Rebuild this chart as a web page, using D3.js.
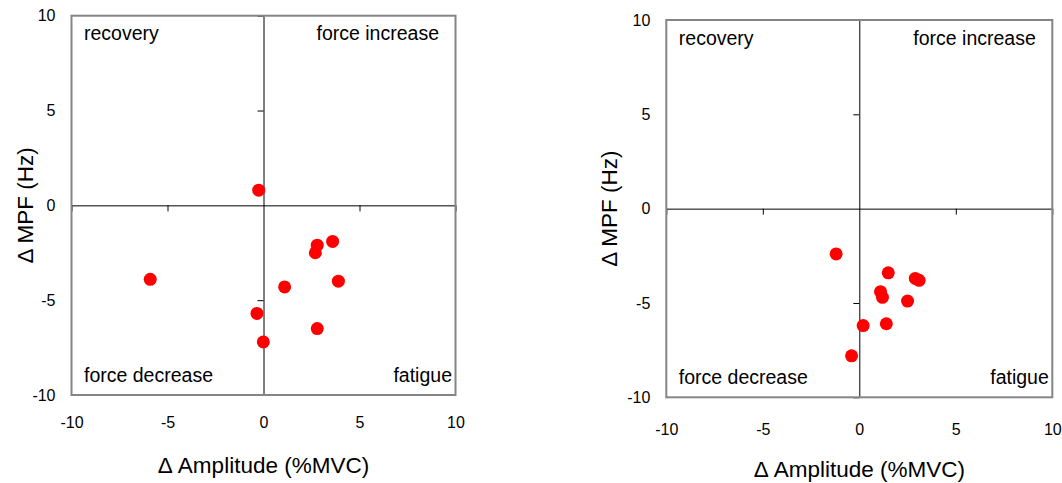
<!DOCTYPE html>
<html>
<head>
<meta charset="utf-8">
<script src="https://cdn.jsdelivr.net/npm/d3@7"></script>
<style>
  body { margin: 0; background: #fff; }
  svg text { font-family: Arial, "Liberation Sans", sans-serif; fill: #000; }
</style>
</head>
<body>
<svg id="chart" width="1062" height="483"></svg>
<script>
// values
var leftAmp  = [-0.25, -5.9, -0.34, -0.01, 2.8, 2.7, 3.6, 3.9, 1.1, 2.8];
var leftMpf  = [0.8, -3.9, -5.7, -7.2, -2.1, -2.5, -1.9, -4.0, -4.3, -6.5];
var rightAmp = [-1.2, 0.2, -0.4, 1.5, 2.9, 3.1, 1.1, 1.2, 2.5, 1.4];
var rightMpf = [-2.4, -6.2, -7.8, -3.4, -3.7, -3.8, -4.4, -4.7, -4.9, -6.1];
var tickVals = [-10, -5, 0, 5, 10];
var axisRange = [-10, 10];
var quadLabels = ["recovery", "force increase", "force decrease", "fatigue"];
var xTitle = "\u0394 Amplitude (%MVC)";
var yTitle = "\u0394 MPF (Hz)";

var panels = [
  {amp: leftAmp, mpf: leftMpf, x0: 71.5, x1: 455.5, y0: 15.7, y1: 395,
   xPad: 22, xTitleY: 473, yTitleX: 33},
  {amp: rightAmp, mpf: rightMpf, x0: 666.3, x1: 1052.3, y0: 20, y1: 397.3,
   xPad: 26, xTitleY: 477, yTitleX: 617}
];

var chart = d3.select("#chart");
var fmt = function(d){ return String(d); };

panels.forEach(function(p){
    var x = d3.scaleLinear().domain(axisRange).range([p.x0, p.x1]);
    var y = d3.scaleLinear().domain(axisRange).range([p.y1, p.y0]);
    var g = chart.append("g");

    // tick labels sit at the box edges, like Excel "low" labels
    g.append("g")
        .attr("transform", "translate(" + p.x0 + ",0)")
        .attr("font-size", 16)
        .attr("font-family", null)
        .call(d3.axisLeft(y).tickValues(tickVals).tickFormat(fmt).tickSize(0).tickPadding(16))
        .call(function(a){
            a.select(".domain").remove();
            a.attr("font-size", 16).attr("font-family", null);
        });

    g.append("g")
        .attr("transform", "translate(0," + p.y1 + ")")
        .call(d3.axisBottom(x).tickValues(tickVals).tickFormat(fmt).tickSize(0).tickPadding(p.xPad))
        .call(function(a){
            a.select(".domain").remove();
            a.attr("font-size", 16).attr("font-family", null);
        });

    // zero lines with their ticks
    g.append("g")
        .attr("transform", "translate(" + x(0) + ",0)")
        .call(d3.axisLeft(y).tickValues([-10, -5, 5, 10]).tickFormat("").tickSize(6).tickSizeOuter(0))
        .call(function(a){ a.selectAll("line,path").attr("stroke", "#000"); });

    g.append("g")
        .attr("transform", "translate(0," + y(0) + ")")
        .call(d3.axisBottom(x).tickValues([-10, -5, 5, 10]).tickFormat("").tickSize(6).tickSizeOuter(0))
        .call(function(a){ a.selectAll("line,path").attr("stroke", "#000"); });

    // plot box
    g.append("rect")
        .attr("x", p.x0)
        .attr("y", p.y0)
        .attr("width", p.x1 - p.x0)
        .attr("height", p.y1 - p.y0)
        .attr("fill", "none")
        .attr("stroke", "#858585")
        .attr("stroke-width", 2);

    // quadrant labels
    var ql = [
        {t: quadLabels[0], x: p.x0 + 12.5, y: p.y0 + 24.5, a: "start"},
        {t: quadLabels[1], x: p.x1 - 16.5, y: p.y0 + 24.5, a: "end"},
        {t: quadLabels[2], x: p.x0 + 12.5, y: p.y1 - 13, a: "start"},
        {t: quadLabels[3], x: p.x1 - 3.5, y: p.y1 - 13, a: "end"}
    ];
    ql.forEach(function(q){
        g.append("text")
            .attr("x", q.x)
            .attr("y", q.y)
            .attr("font-size", 19.5)
            .style("text-anchor", q.a)
            .text(q.t);
    });

    // points
    g.selectAll("circle")
        .data(p.amp)
        .enter().append("circle")
        .attr("cx", function(d){ return x(d); })
        .attr("cy", function(d, i){ return y(p.mpf[i]); })
        .attr("r", 6.5)
        .style("fill", "#ff0000");

    // axis titles
    g.append("text")
        .attr("x", (p.x0 + p.x1) / 2)
        .attr("y", p.xTitleY)
        .attr("font-size", 22.5)
        .style("text-anchor", "middle")
        .text(xTitle);

    g.append("text")
        .attr("transform", "translate(" + p.yTitleX + "," + ((p.y0 + p.y1) / 2) + ") rotate(-90)")
        .attr("font-size", 22.5)
        .style("text-anchor", "middle")
        .text(yTitle);
});
</script>
</body>
</html>
